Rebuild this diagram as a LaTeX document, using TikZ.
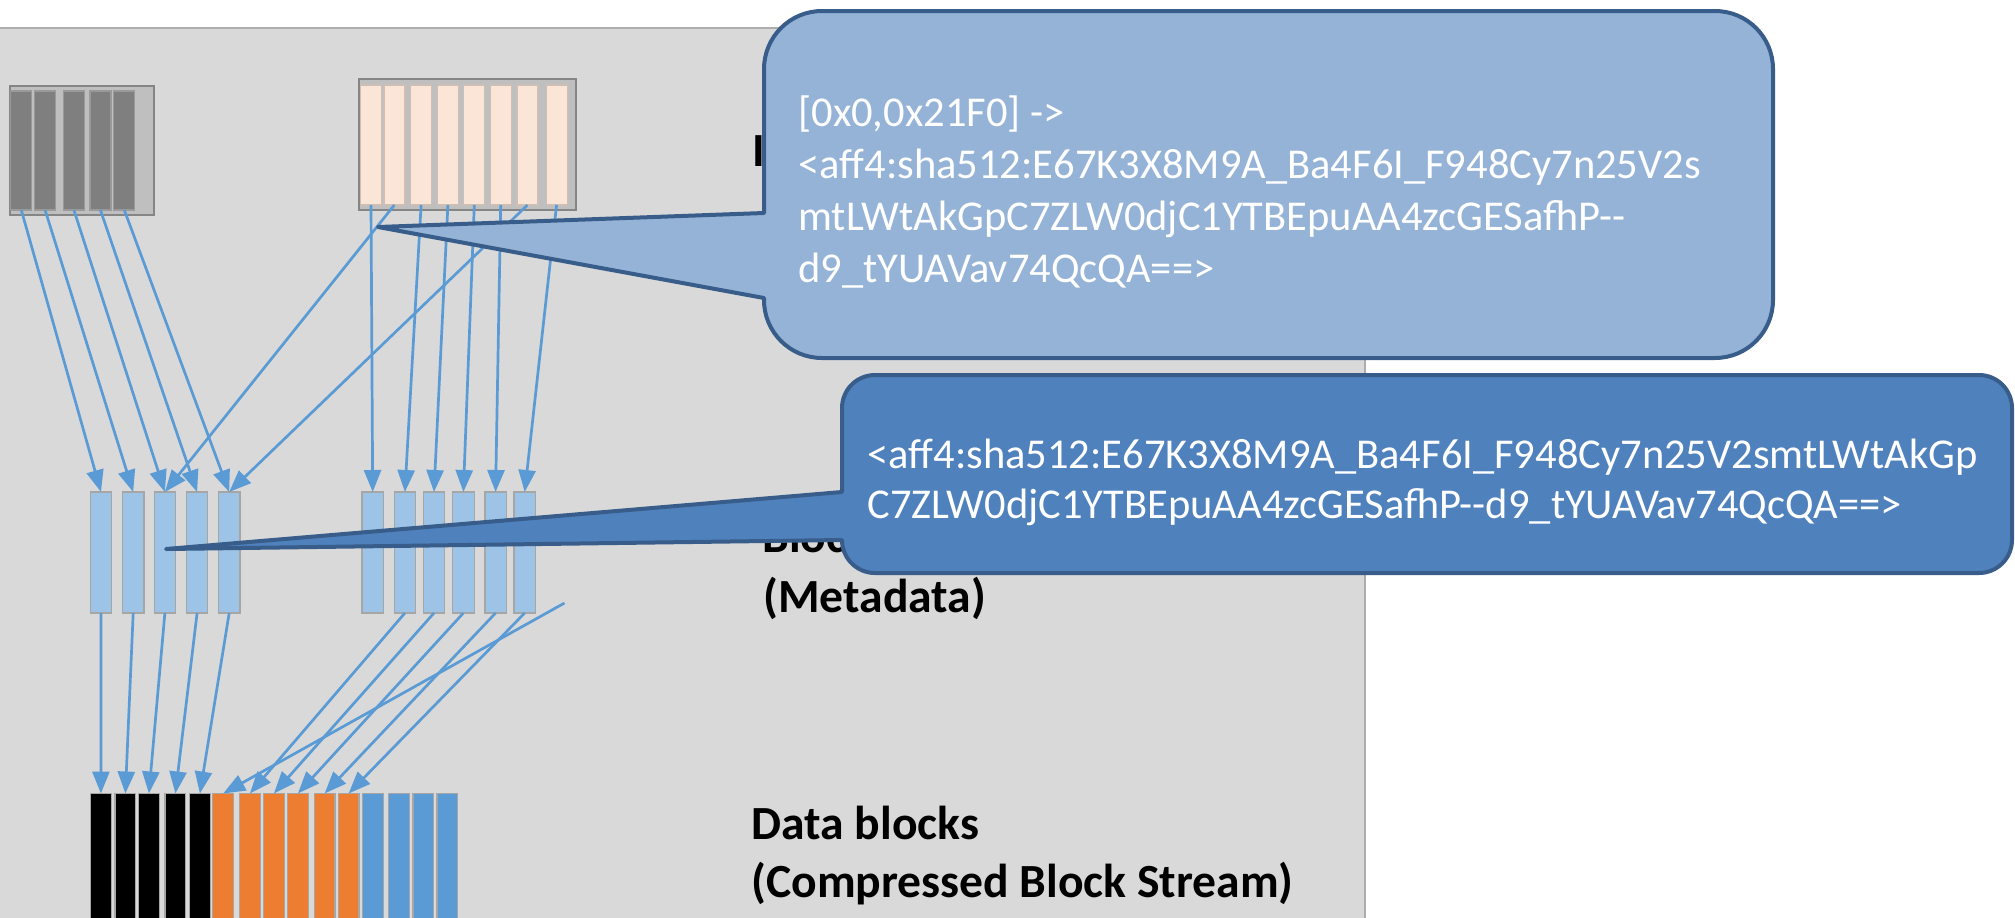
\documentclass[tikz,border=0pt]{standalone}
\usepackage{fontspec}
\setmainfont{Carlito}
\usetikzlibrary{arrows.meta}
\definecolor{bggray}{HTML}{D9D9D9}
\definecolor{bgline}{HTML}{ADADAD}
\definecolor{boxgray}{HTML}{BFBFBF}
\definecolor{boxedge}{HTML}{858585}
\definecolor{darkbar}{HTML}{7F7F7F}
\definecolor{darkbaredge}{HTML}{9A9A9A}
\definecolor{peach}{HTML}{FBE5D6}
\definecolor{peachedge}{HTML}{CDBFB5}
\definecolor{midblue}{HTML}{9DC3E6}
\definecolor{arrowblue}{HTML}{5B9BD5}
\definecolor{orangeblk}{HTML}{ED7D31}
\definecolor{blueblk}{HTML}{5B9BD5}
\definecolor{callAfill}{HTML}{95B3D7}
\definecolor{callBfill}{HTML}{4F81BD}
\definecolor{calledge}{HTML}{385D8A}
\definecolor{blkedge}{HTML}{A6A6A6}
\begin{document}
\begin{tikzpicture}[x=0.5pt,y=-0.5pt,
  cell/.style={inner sep=0pt, outer sep=0pt, anchor=north west, line width=0.6pt},
  darkcell/.style={cell, fill=darkbar, draw=darkbaredge, minimum width=10.5pt, minimum height=59.5pt},
  peachcell/.style={cell, fill=peach, draw=peachedge, minimum width=10.5pt, minimum height=60pt},
  midcell/.style={cell, fill=midblue, draw=blkedge, minimum width=10.7pt, minimum height=60.5pt},
  lowcell/.style={cell, draw=blkedge, minimum width=10.4pt, minimum height=70pt},
  arr/.style={draw=arrowblue, line width=1.35pt, -{Triangle[length=11pt,width=8.5pt]}},
  holder/.style={fill=boxgray, draw=boxedge, line width=0.6pt},
  callA/.style={fill=callAfill, draw=calledge, line width=2pt, line join=round},
  callB/.style={fill=callBfill, draw=calledge, line width=2pt, line join=round},
  ctext/.style={anchor=base west, inner sep=0pt, text=white, font=\fontsize{21.25pt}{26pt}\selectfont},
  lbl/.style={anchor=base west, inner sep=0pt, text=black, font=\fontsize{23.8pt}{30pt}\selectfont\bfseries}
]
\useasboundingbox (0,0) rectangle (2015,917);
% background panel
\fill[bggray] (0,28) rectangle (1365,930);
\draw[bgline, line width=0.8pt] (0,28) -- (1365,28) -- (1365,930);

% source holders
\draw[holder] (10,86) rectangle (154,215);
\draw[holder] (359,79) rectangle (576,210);
\foreach \x [count=\i] in {10.8,34.6,63.4,89.9,113.8}
  \node[darkcell] (d\i) at (\x,91) {};
\foreach \x [count=\i] in {360.5,383.9,410.6,437.4,463.8,490.2,517,546.1}
  \node[peachcell] (p\i) at (\x,85) {};

% middle blocks
\foreach \x [count=\i] in {90.3,122.5,154.2,186.4,218.5}
  \node[midcell] (l\i) at (\x,492) {};
\foreach \x [count=\i] in {362,394.2,423.3,452.7,484.9,514}
  \node[midcell] (r\i) at (\x,492) {};

% bottom data blocks
\foreach \x [count=\i] in {90.5,115,138.5,165,189.5}
  \node[lowcell, fill=black] (k\i) at (\x,793.5) {};
\foreach \x [count=\i] in {212.8,239.5,263.5,287.5,314.2,338.2}
  \node[lowcell, fill=orangeblk] (o\i) at (\x,793.5) {};
\foreach \x [count=\i] in {362.3,388.8,413,437}
  \node[lowcell, fill=blueblk] (b\i) at (\x,793.5) {};

% arrows top -> middle
\foreach \a/\b in {d1/l1,d2/l2,d3/l3,d4/l4,d5/l5,p2/l3,p7/l5,p1/r1,p3/r2,p4/r3,p5/r4,p6/r5,p8/r6}
  \draw[arr] (\a.south) -- (\b.north);
% arrows middle -> bottom
\foreach \a/\b in {l1/k1,l2/k2,l3/k3,l4/k4,l5/k5,r2/o2,r3/o3,r4/o4,r5/o5,r6/o6}
  \draw[arr] (\a.south) -- (\b.north);
\coordinate (free) at (564.5,603);
\draw[arr] (free) -- (o1.north);

% labels
\node[lbl] (limg) at (752,166) {I};
\node[lbl] (lblk) at (762,552) {Block};
\node[lbl] (lmeta) at (763,612) {(Metadata)};
\node[lbl] (ldata) at (751,839) {Data blocks};
\node[lbl] (lcomp) at (751,897) {(Compressed Block Stream)};

% callout 1
\coordinate (tipA) at (378,227);
\path[callA] (764,213) -- (764,69) arc[start angle=180,end angle=90,radius=29pt]
  -- (1715,11) arc[start angle=90,end angle=0,radius=29pt]
  -- (1773,300) arc[start angle=0,end angle=-90,radius=29pt]
  -- (822,358) arc[start angle=270,end angle=180,radius=29pt]
  -- (764,298) -- (tipA) -- cycle;
\node[ctext] (ca1) at (798,126) {[0x0,0x21F0] ->};
\node[ctext] (ca2) at (798,178) {<aff4:sha512:E67K3X8M9A\_Ba4F6I\_F948Cy7n25V2s};
\node[ctext] (ca3) at (798,230) {mtLWtAkGpC7ZLW0djC1YTBEpuAA4zcGESafhP-\kern0pt-};
\node[ctext] (ca4) at (798,282) {d9\_tYUAVav74QcQA==>};

% callout 2
\coordinate (tipB) at (166,549);
\path[callB] (842,492) -- (842,408) arc[start angle=180,end angle=90,radius=16.5pt]
  -- (1979,375) arc[start angle=90,end angle=0,radius=16.5pt]
  -- (2012,540) arc[start angle=0,end angle=-90,radius=16.5pt]
  -- (875,573) arc[start angle=270,end angle=180,radius=16.5pt]
  -- (842,540) -- (tipB) -- cycle;
\node[ctext] (cb1) at (867,468) {<aff4:sha512:E67K3X8M9A\_Ba4F6I\_F948Cy7n25V2smtLWtAkGp};
\node[ctext] (cb2) at (867,518) {C7ZLW0djC1YTBEpuAA4zcGESafhP-\kern0pt-d9\_tYUAVav74QcQA==>};
\end{tikzpicture}
\end{document}
